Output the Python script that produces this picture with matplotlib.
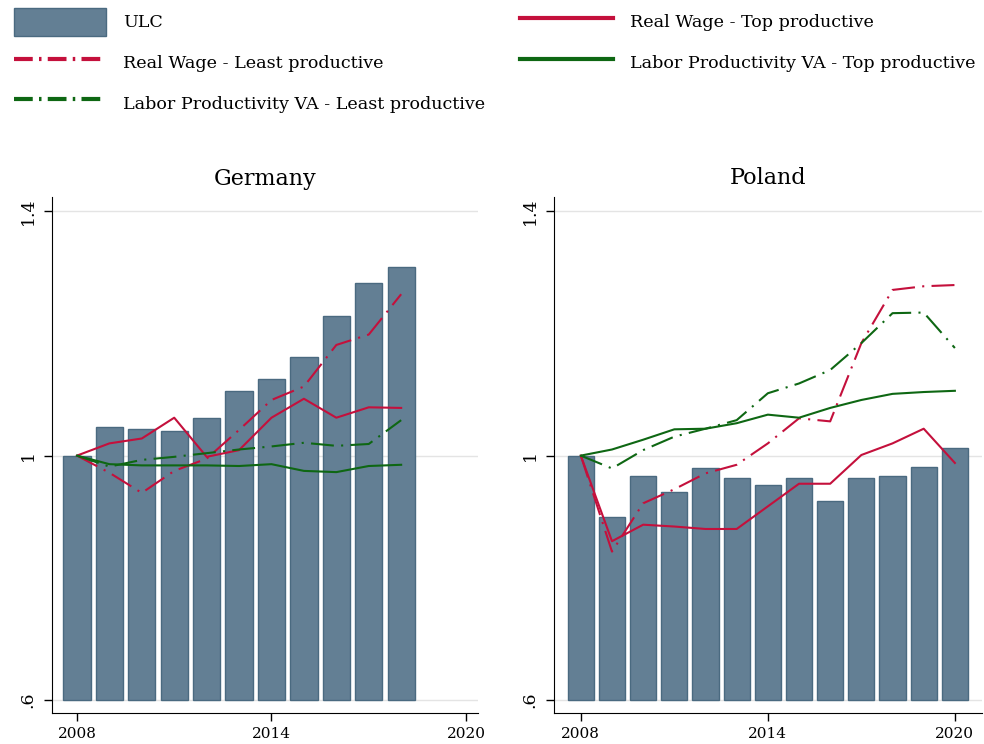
import numpy as np
import matplotlib
matplotlib.use("Agg")
import matplotlib.pyplot as plt
from matplotlib.lines import Line2D
from matplotlib.patches import Patch

plt.rcParams['font.family'] = ['DejaVu Serif']

# --- data ---
years_de = list(range(2008, 2019))
ulc_de = [1.000, 1.047, 1.044, 1.041, 1.061, 1.105, 1.125, 1.162, 1.229, 1.283, 1.308]
rw_top_de = [1.000, 1.020, 1.028, 1.062, 0.998, 1.009, 1.062, 1.093, 1.062, 1.079, 1.078]
rw_least_de = [1.000, 0.972, 0.939, 0.975, 0.995, 1.042, 1.091, 1.113, 1.181, 1.198, 1.264]
lp_top_de = [1.000, 0.986, 0.984, 0.984, 0.984, 0.983, 0.986, 0.975, 0.973, 0.983, 0.985]
lp_least_de = [1.000, 0.982, 0.993, 0.998, 1.004, 1.010, 1.015, 1.021, 1.016, 1.019, 1.058]

years_pl = list(range(2008, 2021))
ulc_pl = [1.000, 0.900, 0.966, 0.941, 0.979, 0.963, 0.952, 0.963, 0.925, 0.963, 0.966, 0.982, 1.012]
rw_top_pl = [1.000, 0.860, 0.887, 0.884, 0.880, 0.880, 0.917, 0.954, 0.954, 1.001, 1.020, 1.044, 0.988]
rw_least_pl = [1.000, 0.843, 0.922, 0.945, 0.971, 0.985, 1.020, 1.061, 1.056, 1.184, 1.271, 1.277, 1.279]
lp_top_pl = [1.000, 1.010, 1.026, 1.043, 1.044, 1.053, 1.067, 1.062, 1.078, 1.091, 1.101, 1.104, 1.106]
lp_least_pl = [1.000, 0.979, 1.009, 1.031, 1.044, 1.058, 1.102, 1.118, 1.140, 1.184, 1.233, 1.234, 1.176]

panels = [
    ("Germany", years_de, ulc_de, rw_top_de, rw_least_de, lp_top_de, lp_least_de),
    ("Poland", years_pl, ulc_pl, rw_top_pl, rw_least_pl, lp_top_pl, lp_least_pl),
]

bar_face = '#637f94'
bar_edge = '#4a6a80'
red = '#c4103c'
green = '#0e6713'
dashdot = (11, 3.5, 1, 3.5)

fig = plt.figure(figsize=(9.84, 7.44), dpi=100)
ax_rects = [
    [52 / 984, 31 / 744, 426 / 984, 516 / 744],
    [554 / 984, 31 / 744, 428 / 984, 516 / 744],
]
xlims = [(2007.23, 2020.37), (2007.14, 2020.87)]

for rect, xl, (name, yrs, ulc, rwt, rwl, lpt, lpl) in zip(ax_rects, xlims, panels):
    ax = fig.add_axes(rect)
    base = 0.6
    ax.bar(yrs, np.array(ulc) - base, bottom=base, width=0.84,
           color=bar_face, edgecolor=bar_edge, linewidth=1.0, zorder=2)
    ax.plot(yrs, rwt, color=red, lw=1.5, zorder=3)
    ax.plot(yrs, rwl, color=red, lw=1.5, dashes=dashdot, zorder=3)
    ax.plot(yrs, lpt, color=green, lw=1.5, zorder=3)
    ax.plot(yrs, lpl, color=green, lw=1.5, dashes=dashdot, zorder=3)

    ax.set_xlim(*xl)
    ax.set_ylim(0.579, 1.423)
    ax.set_yticks([0.6, 1.0, 1.4])
    ax.set_yticklabels(['.6', '1', '1.4'])
    ax.set_xticks([2008, 2014, 2020])
    ax.tick_params(axis='y', labelrotation=90, length=6, width=1, labelsize=12.5, pad=5)
    ax.tick_params(axis='x', length=6, width=1, labelsize=11, pad=4)
    for lab in ax.get_yticklabels():
        lab.set_va('center')
    for y in [0.6, 1.0, 1.4]:
        ax.axhline(y, color='#e4e4e4', lw=1.0, zorder=1)
    ax.spines['top'].set_visible(False)
    ax.spines['right'].set_visible(False)
    ax.set_title(name, fontsize=16, pad=9)

handles = [
    Patch(facecolor=bar_face, edgecolor=bar_edge, linewidth=1.0),
    Line2D([], [], color=red, lw=3, dashes=(4.5, 1.5, 0.6, 1.5)),
    Line2D([], [], color=green, lw=3, dashes=(4.5, 1.5, 0.6, 1.5)),
    Line2D([], [], color=red, lw=3),
    Line2D([], [], color=green, lw=3),
]
labels = [
    "ULC",
    "Real Wage - Least productive",
    "Labor Productivity VA - Least productive",
    "Real Wage - Top productive",
    "Labor Productivity VA - Top productive",
]
fig.legend(handles, labels, ncol=2, loc='upper left', bbox_to_anchor=(0.006, 1.0),
           frameon=False, fontsize=12.6, handlelength=5.26, handleheight=2.08,
           handletextpad=1.0, labelspacing=0.74, columnspacing=2.0,
           borderaxespad=0.05)

fig.savefig("out.png", dpi=100)
